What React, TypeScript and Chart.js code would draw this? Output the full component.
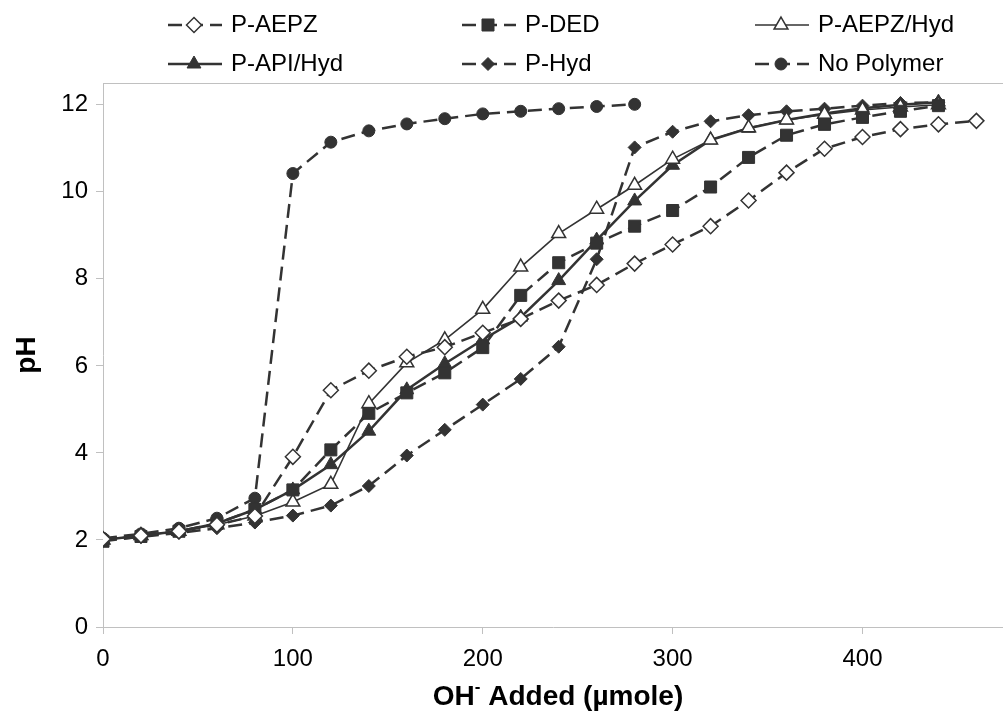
import React, { useEffect, useRef } from 'react';
import { Chart, registerables } from 'chart.js';

Chart.register(...registerables);

// ---------- data ----------
const xFull = [0, 20, 40, 60, 80, 100, 120, 140, 160, 180, 200, 220, 240, 260, 280, 300, 320, 340, 360, 380, 400, 420, 440, 460];
const xNoPolymer = [0, 20, 40, 60, 80, 100, 120, 140, 160, 180, 200, 220, 240, 260, 280];

const pAEPZ = [2.02, 2.1, 2.2, 2.35, 2.55, 3.91, 5.44, 5.89, 6.21, 6.43, 6.76, 7.08, 7.5, 7.86, 8.35, 8.79, 9.21, 9.8, 10.44, 10.99, 11.26, 11.44, 11.55, 11.63];
const pDED = [1.97, 2.08, 2.2, 2.38, 2.7, 3.15, 4.07, 4.91, 5.38, 5.84, 6.42, 7.62, 8.37, 8.82, 9.21, 9.57, 10.11, 10.79, 11.3, 11.55, 11.71, 11.85, 11.98];
const pAEPZHyd = [2.0, 2.1, 2.2, 2.35, 2.55, 2.87, 3.28, 5.13, 6.07, 6.6, 7.3, 8.27, 9.04, 9.6, 10.15, 10.75, 11.19, 11.47, 11.65, 11.78, 11.88, 11.95, 12.0];
const pAPIHyd = [2.0, 2.1, 2.2, 2.38, 2.7, 3.15, 3.73, 4.5, 5.45, 6.05, 6.6, 7.12, 7.96, 8.89, 9.79, 10.61, 11.19, 11.46, 11.65, 11.8, 11.92, 12.0, 12.06];
const pHyd = [2.0, 2.07, 2.16, 2.27, 2.4, 2.56, 2.79, 3.24, 3.94, 4.53, 5.11, 5.7, 6.44, 8.45, 11.02, 11.38, 11.62, 11.76, 11.85, 11.91, 11.98, 12.04, 12.06];
const noPolymer = [2.04, 2.14, 2.27, 2.5, 2.96, 10.42, 11.14, 11.4, 11.56, 11.68, 11.79, 11.85, 11.91, 11.96, 12.01];

const seriesNames = ['P-AEPZ', 'P-DED', 'P-AEPZ/Hyd', 'P-API/Hyd', 'P-Hyd', 'No Polymer'];
const xTickStep = 100;
const yTickStep = 2;

// ---------- styles ----------
const FONT = "'Liberation Sans', Arial, sans-serif";
const INK = '#333333';
const AXIS = '#c0c0c0';

type Style = { marker: string; r: number; fill: string; bw: number; dash: number[]; lw: number };
const styles: Style[] = [
  { marker: 'rectRot', r: 7.5, fill: '#ffffff', bw: 1.5, dash: [14, 7], lw: 2.5 },
  { marker: 'rect', r: 8.5, fill: INK, bw: 1, dash: [14, 7], lw: 2.5 },
  { marker: 'triangle', r: 8, fill: '#ffffff', bw: 1.5, dash: [], lw: 1.6 },
  { marker: 'triangle', r: 8, fill: INK, bw: 1, dash: [], lw: 2.5 },
  { marker: 'rectRot', r: 6.5, fill: INK, bw: 1, dash: [14, 7], lw: 2.5 },
  { marker: 'circle', r: 6, fill: INK, bw: 1, dash: [14, 7], lw: 2.5 },
];
const seriesValues = [pAEPZ, pDED, pAEPZHyd, pAPIHyd, pHyd, noPolymer];
const seriesX = [xFull, xFull, xFull, xFull, xFull, xNoPolymer];

function drawMarker(ctx: CanvasRenderingContext2D, style: string, x: number, y: number, r: number, fill: string, stroke: string, lw: number) {
  ctx.save();
  ctx.setLineDash([]);
  ctx.beginPath();
  if (style === 'circle') {
    ctx.arc(x, y, r, 0, Math.PI * 2);
  } else if (style === 'rect') {
    const s = r * Math.SQRT1_2;
    ctx.rect(x - s, y - s, 2 * s, 2 * s);
  } else if (style === 'rectRot') {
    ctx.moveTo(x - r, y);
    ctx.lineTo(x, y - r);
    ctx.lineTo(x + r, y);
    ctx.lineTo(x, y + r);
    ctx.closePath();
  } else if (style === 'triangle') {
    let a = 0;
    ctx.moveTo(x + Math.sin(a) * r, y - Math.cos(a) * r);
    a += (2 * Math.PI) / 3;
    ctx.lineTo(x + Math.sin(a) * r, y - Math.cos(a) * r);
    a += (2 * Math.PI) / 3;
    ctx.lineTo(x + Math.sin(a) * r, y - Math.cos(a) * r);
    ctx.closePath();
  }
  ctx.fillStyle = fill;
  ctx.fill();
  ctx.strokeStyle = stroke;
  ctx.lineWidth = lw;
  ctx.stroke();
  ctx.restore();
}

const legendCols = [194, 488, 781];
const legendRows = [25, 64];

const decorPlugin = {
  id: 'decor',
  afterDraw(chart: any) {
    const ctx: CanvasRenderingContext2D = chart.ctx;
    const area = chart.chartArea;
    ctx.save();
    // top border of plot area
    ctx.strokeStyle = AXIS;
    ctx.lineWidth = 1;
    ctx.beginPath();
    ctx.moveTo(area.left, area.top + 0.5);
    ctx.lineTo(area.right, area.top + 0.5);
    ctx.stroke();

    // legend
    seriesNames.forEach((name, i) => {
      const st = styles[i];
      const cx = legendCols[i % 3];
      const cy = legendRows[Math.floor(i / 3)];
      ctx.save();
      ctx.strokeStyle = INK;
      ctx.lineWidth = st.lw;
      ctx.setLineDash(st.dash);
      ctx.beginPath();
      ctx.moveTo(cx - 26, cy);
      ctx.lineTo(cx + 28, cy);
      ctx.stroke();
      ctx.restore();
      drawMarker(ctx, st.marker, cx, cy, st.r, st.fill, INK, st.bw);
      ctx.fillStyle = '#000';
      ctx.font = `24px ${FONT}`;
      ctx.textBaseline = 'middle';
      ctx.textAlign = 'left';
      ctx.fillText(name, cx + 37, cy);
    });

    // y title
    ctx.save();
    ctx.translate(27, (area.top + area.bottom) / 2);
    ctx.rotate(-Math.PI / 2);
    ctx.font = `bold 28px ${FONT}`;
    ctx.fillStyle = '#000';
    ctx.textAlign = 'center';
    ctx.textBaseline = 'middle';
    ctx.fillText('pH', 0, 0);
    ctx.restore();

    // x title with superscript
    const big = `bold 28px ${FONT}`;
    const small = `bold 17px ${FONT}`;
    const p1 = 'OH';
    const p2 = '-';
    const p3 = ' Added (µmole)';
    ctx.font = big;
    const w1 = ctx.measureText(p1).width;
    const w3 = ctx.measureText(p3).width;
    ctx.font = small;
    const w2 = ctx.measureText(p2).width;
    const total = w1 + w2 + w3;
    const cxT = 558;
    let x = cxT - total / 2;
    const y = 697;
    ctx.fillStyle = '#000';
    ctx.textAlign = 'left';
    ctx.textBaseline = 'middle';
    ctx.font = big;
    ctx.fillText(p1, x, y);
    x += w1;
    ctx.font = small;
    ctx.fillText(p2, x, y - 10);
    x += w2;
    ctx.font = big;
    ctx.fillText(p3, x, y);
    ctx.restore();
  },
};

export default function App() {
  const ref = useRef<HTMLCanvasElement | null>(null);

  useEffect(() => {
    document.body.style.margin = '0';
    const canvas = ref.current;
    if (!canvas) return;
    const datasets = seriesNames.map((name, i) => {
      const st = styles[i];
      return {
        label: name,
        data: seriesValues[i].map((v, j) => ({ x: seriesX[i][j], y: v })),
        borderColor: INK,
        borderWidth: st.lw,
        borderDash: st.dash,
        backgroundColor: st.fill,
        pointStyle: st.marker,
        pointRadius: st.r,
        pointBackgroundColor: st.fill,
        pointBorderColor: INK,
        pointBorderWidth: st.bw,
        tension: 0,
        fill: false,
      };
    });

    const chart = new Chart(canvas, {
      type: 'line',
      data: { datasets } as any,
      plugins: [decorPlugin],
      options: {
        responsive: false,
        animation: false,
        devicePixelRatio: 1,
        layout: { autoPadding: false, padding: { top: 83, left: 0, right: 0, bottom: 0 } },
        plugins: { legend: { display: false }, tooltip: { enabled: false } },
        scales: {
          x: {
            type: 'linear',
            min: 0,
            max: 474,
            afterFit: (s: any) => {
              s.height = 92;
              s.paddingLeft = 0;
              s.paddingRight = 0;
            },
            ticks: {
              stepSize: xTickStep,
              includeBounds: false,
              color: '#000',
              font: { family: FONT, size: 24 },
              padding: 11,
              maxRotation: 0,
            },
            grid: { drawOnChartArea: false, drawTicks: true, tickLength: 7, color: AXIS, lineWidth: 1 },
            border: { color: AXIS, width: 1 },
          },
          y: {
            type: 'linear',
            min: 0,
            max: 12.5,
            afterFit: (s: any) => {
              s.width = 103;
              s.paddingTop = 0;
              s.paddingBottom = 0;
            },
            ticks: {
              stepSize: yTickStep,
              includeBounds: false,
              color: '#000',
              font: { family: FONT, size: 24 },
              padding: 8,
            },
            grid: { drawOnChartArea: false, drawTicks: true, tickLength: 7, color: AXIS, lineWidth: 1 },
            border: { color: AXIS, width: 1 },
          },
        },
      } as any,
    });
    return () => chart.destroy();
  }, []);

  return (
    <div style={{ position: 'fixed', left: 0, top: 0, width: 1003, height: 719, background: '#fff' }}>
      <canvas ref={ref} width={1003} height={719} style={{ display: 'block' }} />
    </div>
  );
}
